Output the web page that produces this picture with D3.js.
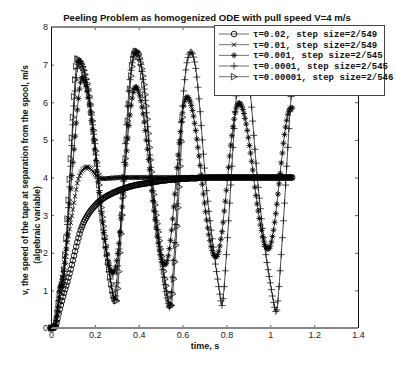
<!DOCTYPE html>
<html><head><meta charset="utf-8">
<script src="https://cdn.jsdelivr.net/npm/d3@7"></script>
<style>
body{margin:0;background:#fff;}
svg{display:block;font-family:"Liberation Sans",Arial,Helvetica,sans-serif;}
</style>
</head><body><div id="chart"></div>
<script>
// ---------------- DATA ----------------
const time = [
0,0.005,0.01,0.015,0.02,0.025,0.03,0.035,0.04,0.045,
0.05,0.055,0.06,0.065,0.07,0.075,0.08,0.085,0.09,0.095,
0.1,0.105,0.11,0.115,0.12,0.125,0.13,0.135,0.14,0.145,
0.15,0.155,0.16,0.165,0.17,0.175,0.18,0.185,0.19,0.195,
0.2,0.205,0.21,0.215,0.22,0.225,0.23,0.235,0.24,0.245,
0.25,0.255,0.26,0.265,0.27,0.275,0.28,0.285,0.29,0.295,
0.3,0.305,0.31,0.315,0.32,0.325,0.33,0.335,0.34,0.345,
0.35,0.355,0.36,0.365,0.37,0.375,0.38,0.385,0.39,0.395,
0.4,0.405,0.41,0.415,0.42,0.425,0.43,0.435,0.44,0.445,
0.45,0.455,0.46,0.465,0.47,0.475,0.48,0.485,0.49,0.495,
0.5,0.505,0.51,0.515,0.52,0.525,0.53,0.535,0.54,0.545,
0.55,0.555,0.56,0.565,0.57,0.575,0.58,0.585,0.59,0.595,
0.6,0.605,0.61,0.615,0.62,0.625,0.63,0.635,0.64,0.645,
0.65,0.655,0.66,0.665,0.67,0.675,0.68,0.685,0.69,0.695,
0.7,0.705,0.71,0.715,0.72,0.725,0.73,0.735,0.74,0.745,
0.75,0.755,0.76,0.765,0.77,0.775,0.78,0.785,0.79,0.795,
0.8,0.805,0.81,0.815,0.82,0.825,0.83,0.835,0.84,0.845,
0.85,0.855,0.86,0.865,0.87,0.875,0.88,0.885,0.89,0.895,
0.9,0.905,0.91,0.915,0.92,0.925,0.93,0.935,0.94,0.945,
0.95,0.955,0.96,0.965,0.97,0.975,0.98,0.985,0.99,0.995,
1,1.005,1.01,1.015,1.02,1.025,1.03,1.035,1.04,1.045,
1.05,1.055,1.06,1.065,1.07,1.075,1.08,1.085,1.09,1.095,1.1];

// tau = 0.02
const vTau002 = [
0,0,0,0.01,0.05,0.13,0.25,0.38,0.5,0.61,
0.72,0.83,0.93,1.03,1.13,1.23,1.34,1.45,1.56,1.68,
1.8,1.92,2.04,2.16,2.28,2.39,2.5,2.6,2.68,2.75,
2.82,2.88,2.93,2.98,3.03,3.07,3.11,3.15,3.18,3.22,
3.25,3.28,3.31,3.34,3.36,3.39,3.41,3.43,3.45,3.47,
3.49,3.51,3.52,3.54,3.55,3.57,3.58,3.6,3.61,3.62,
3.63,3.65,3.66,3.67,3.68,3.69,3.7,3.71,3.72,3.73,
3.74,3.75,3.76,3.77,3.77,3.78,3.79,3.8,3.8,3.81,
3.81,3.82,3.82,3.83,3.83,3.84,3.84,3.85,3.85,3.86,
3.86,3.87,3.87,3.88,3.88,3.89,3.89,3.9,3.9,3.91,
3.91,3.92,3.92,3.92,3.92,3.93,3.93,3.94,3.94,3.94,
3.94,3.95,3.95,3.95,3.95,3.96,3.96,3.96,3.96,3.97,
3.97,3.97,3.97,3.97,3.97,3.97,3.98,3.98,3.98,3.98,
3.98,3.98,3.98,3.98,3.99,3.99,3.99,3.99,3.99,3.99,
3.99,3.99,4,4,4,4,4,4,4,4,
4,4,4,4,4,4,4,4,4,4,
4,4,4,4,4,4,4,4,4,4,
4,4,4,4,4,4,4,4,4,4,
4,4,4,4,4,4,4,4,4,4,
4,4,4,4,4,4,4,4,4,4,
4,4,4,4,4,4,4,4,4,4,
4,4,4,4,4,4,4,4,4,4,4];

// tau = 0.01
const vTau001 = [
0,0,0,0.03,0.1,0.25,0.45,0.7,0.95,1.15,
1.35,1.55,1.75,1.93,2.1,2.28,2.45,2.63,2.8,2.98,
3.15,3.33,3.5,3.68,3.85,3.96,4.05,4.12,4.17,4.21,
4.24,4.26,4.27,4.28,4.28,4.26,4.24,4.21,4.17,4.13,
4.09,4.06,4.03,4.01,3.99,3.98,3.97,3.97,3.97,3.97,
3.97,3.97,3.98,3.98,3.98,3.98,3.99,3.99,3.99,3.99,
4,4,4,4,4,4,4,4,4,4,
4,4,4,4,4,4,4,4,4,4,
4,4,4,4,4,4,4,4,4,4,
4,4,4,4,4,4,4,4,4,4,
4,4,4,4,4,4,4,4,4,4,
4,4,4,4,4,4,4,4,4,4,
4,4,4,4,4,4,4,4,4,4,
4,4,4,4,4,4,4,4,4,4,
4,4,4,4,4,4,4,4,4,4,
4,4,4,4,4,4,4,4,4,4,
4,4,4,4,4,4,4,4,4,4,
4,4,4,4,4,4,4,4,4,4,
4,4,4,4,4,4,4,4,4,4,
4,4,4,4,4,4,4,4,4,4,
4,4,4,4,4,4,4,4,4,4,
4,4,4,4,4,4,4,4,4,4,4];

// tau = 0.001
const vTau0001 = [
0,0,0,0.03,0.1,0.3,0.55,0.8,1.0,1.1,
1.15,1.25,1.4,1.72,2.1,2.5,2.9,3.3,3.7,4.05,
4.4,4.75,5.1,5.45,5.8,6.1,6.35,6.53,6.65,6.64,
6.6,6.53,6.42,6.29,6.13,5.95,5.74,5.51,5.27,5.0,
4.75,4.45,4.17,3.88,3.6,3.32,3.05,2.81,2.54,2.35,
2.13,1.96,1.79,1.66,1.56,1.5,1.46,1.47,1.52,1.62,
1.79,1.98,2.25,2.55,2.9,3.22,3.59,3.97,4.34,4.71,
5.05,5.38,5.66,5.91,6.11,6.26,6.36,6.4,6.4,6.35,
6.27,6.17,6.04,5.87,5.69,5.47,5.25,4.99,4.75,4.48,
4.21,3.93,3.65,3.39,3.12,2.89,2.66,2.44,2.26,2.07,
1.94,1.82,1.75,1.7,1.68,1.71,1.79,1.92,2.11,2.33,
2.6,2.9,3.22,3.56,3.91,4.26,4.6,4.92,5.22,5.49,
5.72,5.9,6.03,6.11,6.14,6.13,6.08,6.01,5.91,5.78,
5.63,5.44,5.25,5.02,4.8,4.57,4.32,4.07,3.82,3.56,
3.32,3.09,2.87,2.66,2.48,2.32,2.17,2.06,1.97,1.92,
1.89,1.9,1.95,2.04,2.18,2.36,2.56,2.81,3.11,3.37,
3.66,3.97,4.27,4.57,4.86,5.11,5.35,5.55,5.72,5.85,
5.93,5.97,5.98,5.95,5.89,5.81,5.7,5.57,5.42,5.25,
5.06,4.85,4.65,4.43,4.2,3.97,3.74,3.52,3.3,3.11,
2.91,2.74,2.59,2.43,2.31,2.22,2.15,2.11,2.1,2.12,
2.18,2.29,2.43,2.6,2.81,3.04,3.29,3.56,3.83,4.11,
4.39,4.65,4.91,5.14,5.34,5.52,5.67,5.77,5.83,5.85,5.85];

// tau = 0.0001
const vTau00001 = [
0,0,0,0.01,0.05,0.2,0.45,0.72,0.95,1.08,
1.15,1.3,1.5,1.85,2.3,2.75,3.2,3.75,4.3,4.85,
5.4,5.9,6.3,6.65,6.9,7.05,7.1,7.08,7.02,6.95,
6.85,6.73,6.6,6.46,6.3,6.11,5.9,5.66,5.4,5.15,
4.9,4.6,4.3,3.97,3.65,3.37,3.1,2.85,2.6,2.37,
2.15,1.92,1.7,1.5,1.3,1.11,0.95,0.8,0.74,0.85,
1.2,1.65,2.1,2.55,3.0,3.45,3.9,4.4,4.9,5.4,
5.9,6.3,6.6,6.85,7.05,7.2,7.3,7.33,7.34,7.31,
7.25,7.14,7.0,6.82,6.6,6.35,6.05,5.72,5.35,4.97,
4.6,4.27,3.95,3.64,3.35,3.09,2.85,2.62,2.4,2.17,
1.95,1.75,1.55,1.35,1.15,0.97,0.8,0.66,0.55,0.6,
0.95,1.35,1.8,2.27,2.75,3.3,3.9,4.47,5.0,5.47,
5.9,6.3,6.6,6.86,7.05,7.19,7.28,7.33,7.33,7.29,
7.2,7.07,6.9,6.67,6.4,6.09,5.75,5.38,5.0,4.62,
4.25,3.93,3.65,3.37,3.1,2.85,2.6,2.37,2.15,1.92,
1.7,1.5,1.3,1.1,0.9,0.72,0.6,0.78,1.1,1.52,
1.95,2.4,2.85,3.32,3.8,4.3,4.8,5.3,5.75,6.17,
6.5,6.8,7.0,7.15,7.25,7.3,7.28,7.21,7.1,6.95,
6.75,6.5,6.2,5.87,5.5,5.12,4.75,4.38,4.05,3.74,
3.45,3.17,2.9,2.65,2.4,2.17,1.95,1.74,1.55,1.37,
1.2,1.02,0.85,0.68,0.55,0.44,0.48,0.72,1.1,1.52,
1.95,2.4,2.85,3.32,3.8,4.3,4.8,5.3,5.75,6.15,6.5];

// tau = 0.00001 (run ends near t = 0.6)
const vTau000001 = [
0,0,0,0.01,0.05,0.18,0.4,0.65,0.9,1.05,
1.15,1.32,1.55,1.95,2.4,2.9,3.4,3.95,4.5,5.05,
5.6,6.15,6.6,6.95,7.15,7.15,7.1,7.06,7.0,6.93,
6.85,6.74,6.62,6.5,6.35,6.16,5.95,5.73,5.5,5.25,
5.0,4.7,4.4,4.1,3.8,3.5,3.2,2.95,2.7,2.45,
2.2,1.97,1.75,1.55,1.35,1.17,1.0,0.87,0.78,0.73,
0.72,1.05,1.5,2.0,2.5,3.0,3.5,4.0,4.5,5.0,
5.5,5.95,6.35,6.7,6.95,7.15,7.28,7.34,7.36,7.34,
7.28,7.18,7.05,6.89,6.7,6.47,6.2,5.9,5.55,5.17,
4.8,4.47,4.15,3.85,3.55,3.27,3.0,2.77,2.55,2.32,
2.1,1.9,1.7,1.5,1.3,1.12,0.95,0.8,0.65,0.6,
0.6,0.9,1.3,1.75,2.2,2.7,3.2,3.75,4.3,4.95,5.6];

const legendLabels = ["τ=0.02, step size=2/549","τ=0.01, step size=2/549","τ=0.001, step size=2/545","τ=0.0001, step size=2/545","τ=0.00001, step size=2/546"];
const markerKinds = ["circle","x","star","plus","triRight"];
const xTicks = [0,0.2,0.4,0.6,0.8,1,1.2,1.4];
const yTicks = [0,1,2,3,4,5,6,7,8];
const titleText = "Peeling Problem as homogenized ODE with pull speed V=4 m/s";
const xLabelText = "time, s";
const yLabelLine1 = "v, the speed of the tape at separation from the spool, m/s";
const yLabelLine2 = "(algebraic variable)";

// ---------------- CHART ----------------
const W = 396, H = 370;
const svg = d3.select("#chart").append("svg").attr("width", W).attr("height", H);
svg.append("rect").attr("width", W).attr("height", H).attr("fill", "#fff");

const x = d3.scaleLinear().domain([0, 1.4]).range([51, 358]);
const y = d3.scaleLinear().domain([0, 8]).range([328, 27]);

const seriesValues = [vTau002, vTau001, vTau0001, vTau00001, vTau000001];
const series = seriesValues.map((vals, k) => ({
  name: legendLabels[k], marker: markerKinds[k],
  points: vals.map((v, i) => [time[i], v])
}));

const markerPath = {
  x: "M-2.2,-2.2L2.2,2.2M-2.2,2.2L2.2,-2.2",
  star: "M-3,0L3,0M0,-3L0,3M-2.1,-2.1L2.1,2.1M-2.1,2.1L2.1,-2.1",
  plus: "M-3.5,0L3.5,0M0,-3.5L0,3.5",
  triRight: "M-2.6,-3.2L3.2,0L-2.6,3.2Z"
};
const mkColor = "#000";
const mkWidth = {circle: 0.9, x: 0.9, star: 0.85, plus: 0.7, triRight: 0.7};
function drawMarker(g, kind, cx, cy) {
  if (kind === "circle") {
    g.append("circle").attr("cx", cx).attr("cy", cy).attr("r", 2.8)
      .attr("fill", "none").attr("stroke", mkColor).attr("stroke-width", mkWidth[kind]);
  } else {
    g.append("path").attr("d", markerPath[kind]).attr("transform", `translate(${cx},${cy})`)
      .attr("fill", "none").attr("stroke", mkColor).attr("stroke-width", mkWidth[kind]);
  }
}

// axes ticks (inward, MATLAB box style)
const gx = svg.append("g").attr("transform", "translate(0,328)")
  .call(d3.axisBottom(x).tickValues(xTicks).tickFormat(d => String(d)).tickSizeInner(-3).tickSizeOuter(0).tickPadding(4));
const gxt = svg.append("g").attr("transform", "translate(0,27)")
  .call(d3.axisTop(x).tickValues(xTicks).tickFormat("").tickSizeInner(-3).tickSizeOuter(0));
const gy = svg.append("g").attr("transform", "translate(51,0)")
  .call(d3.axisLeft(y).tickValues(yTicks).tickFormat(d => String(d)).tickSizeInner(-3).tickSizeOuter(0).tickPadding(3));
const gyr = svg.append("g").attr("transform", "translate(358,0)")
  .call(d3.axisRight(y).tickValues(yTicks).tickFormat("").tickSizeInner(-3).tickSizeOuter(0));
[gx, gxt, gy, gyr].forEach(g => {
  g.select(".domain").remove();
  g.selectAll(".tick line").attr("stroke", "#333").attr("stroke-width", 0.8);
  g.selectAll(".tick text").attr("font-family", "'Liberation Sans', Arial, sans-serif")
    .attr("font-size", 9).attr("fill", "#222");
});

// series
const line = d3.line().x(d => x(d[0])).y(d => y(d[1]));
series.forEach(s => {
  const g = svg.append("g");
  g.append("path").datum(s.points).attr("d", line)
    .attr("fill", "none").attr("stroke", "#000").attr("stroke-width", 0.7);
  s.points.forEach(p => drawMarker(g, s.marker, x(p[0]), y(p[1])));
});

// axes box
svg.append("line").attr("x1", 51).attr("x2", 358).attr("y1", 328).attr("y2", 328).attr("stroke", "#888").attr("stroke-width", 2);
svg.append("line").attr("x1", 51).attr("x2", 358).attr("y1", 27).attr("y2", 27).attr("stroke", "#888").attr("stroke-width", 2);
svg.append("line").attr("x1", 51.5).attr("x2", 51.5).attr("y1", 27).attr("y2", 328).attr("stroke", "#111").attr("stroke-width", 1);
svg.append("line").attr("x1", 358.5).attr("x2", 358.5).attr("y1", 27).attr("y2", 328).attr("stroke", "#111").attr("stroke-width", 1);

// title & labels
svg.append("text").attr("x", 207).attr("y", 21).attr("text-anchor", "middle")
  .attr("font-size", 9.6).attr("font-weight", "bold").attr("fill", "#111").text(titleText);
svg.append("text").attr("x", 205).attr("y", 349).attr("text-anchor", "middle")
  .attr("font-size", 9).attr("font-weight", "bold").attr("fill", "#111").text(xLabelText);
svg.append("text").attr("transform", "translate(28,180) rotate(-90)").attr("text-anchor", "middle")
  .attr("font-size", 8.5).attr("font-weight", "bold").attr("fill", "#111").text(yLabelLine1);
svg.append("text").attr("transform", "translate(40,225) rotate(-90)").attr("text-anchor", "middle")
  .attr("font-size", 8.5).attr("font-weight", "bold").attr("fill", "#111").text(yLabelLine2);

// legend
const lg = svg.append("g");
lg.append("rect").attr("x", 214.5).attr("y", 25.5).attr("width", 170).attr("height", 70)
  .attr("fill", "#fff").attr("stroke", "#444").attr("stroke-width", 1);
const rowY = d3.scaleLinear().domain([0, 4]).range([34, 76.7]);
series.forEach((s, k) => {
  const yy = rowY(k);
  lg.append("line").attr("x1", 219).attr("x2", 249).attr("y1", yy).attr("y2", yy)
    .attr("stroke", "#111").attr("stroke-width", 0.6);
  drawMarker(lg, s.marker, 234, yy);
  lg.append("text").attr("x", 253).attr("y", yy + 3)
    .attr("font-family", "'Liberation Mono', 'Courier New', monospace").attr("font-size", 9)
    .attr("font-weight", "bold").attr("fill", "#111").text(s.name);
});
</script>
</body></html>
